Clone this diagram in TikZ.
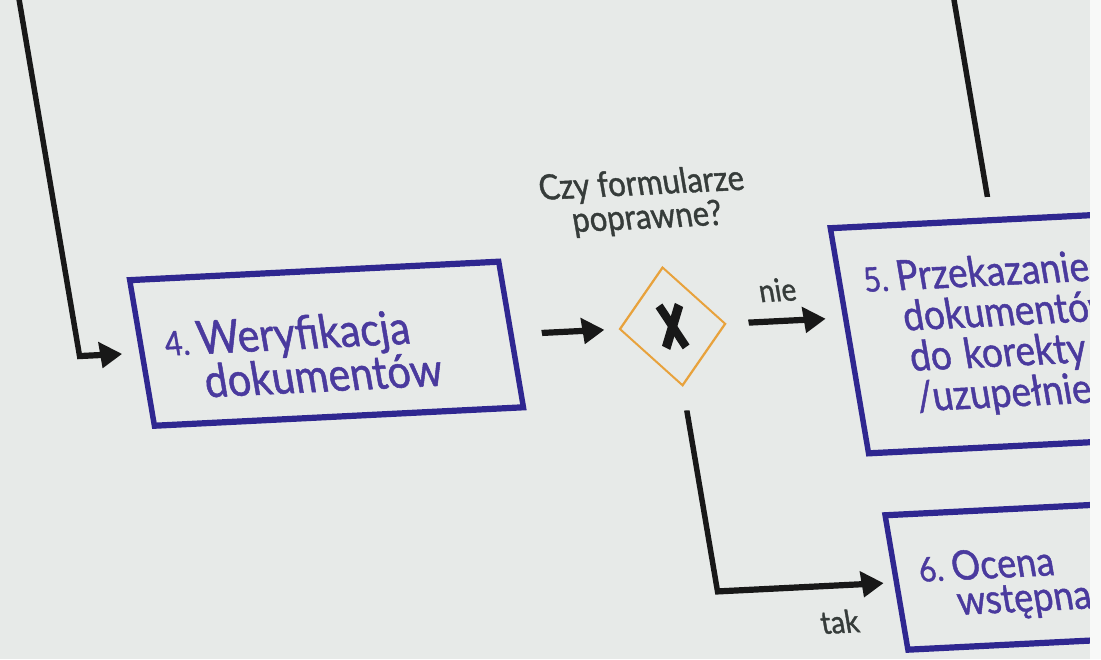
\documentclass[tikz,border=0pt]{standalone}
\usepackage{fontspec}
\setmainfont{Lato}
\newfontfamily\medfont{Lato}[FakeBold=1.2]
\usetikzlibrary{arrows.meta,shapes.geometric}
\definecolor{bg}{HTML}{E7EAE8}
\definecolor{boxc}{HTML}{2F2790}
\definecolor{txtc}{HTML}{4A3A9E}
\definecolor{gatec}{HTML}{E8A23C}
\definecolor{ink}{HTML}{181818}
\definecolor{lbl}{HTML}{363C3A}
\newcommand\tasktext[3][0pt]{\raisebox{-#1}[\height][\depth]{\makebox[33pt][l]{\fontsize{30}{36}\selectfont #2}\parbox[t]{330pt}{\raggedright #3}}}
\tikzset{
  task/.style={draw=boxc, line width=5.5pt, text=txtc, align=left, inner xsep=24pt, inner ysep=0pt,
    font=\medfont\fontsize{41}{36}\selectfont},
  gateway/.style={diamond, aspect=1, draw=gatec, line width=2pt, minimum width=106pt, minimum height=106pt, inner sep=0pt},
  flow/.style={draw=ink, line width=5.5pt, -{Triangle[length=22pt,width=22pt]}},
  plainline/.style={draw=ink, line width=5.5pt},
  xmark/.style={draw=ink, line width=8.5pt},
  cond/.style={text=lbl, align=center, font=\medfont\fontsize{31}{30}\selectfont},
  flowlabel/.style={text=lbl, font=\medfont\fontsize{28}{30}\selectfont}
}
\begin{document}
\begin{tikzpicture}
\useasboundingbox (0,0) rectangle (1101pt,-659pt);
\fill[bg] (0,0) rectangle (1101pt,-659pt);
\begin{scope}
\clip (0,0) rectangle (1090pt,-659pt);
\begin{scope}[transform canvas={cm={1,0.05,-0.19,1.12,(0pt,0pt)}}, x=1pt, y=-0.8929pt]
  % nodes
  \node[task, minimum width=369pt, minimum height=130pt, text width=321pt] (b4) at (266,357)
    {\tasktext[8pt]{4.}{Weryfikacja\\dokumentów}};
  \node[gateway] (g) at (612,357) {};
  \node[task, minimum width=400pt, minimum height=201pt, text width=352pt,
    font=\medfont\fontsize{37}{36}\selectfont] (b5) at (985,380)
    {\tasktext[1pt]{5.}{Przekazanie\\dokumentów\\do korekty\\/uzupełnienia}};
  \node[task, minimum width=400pt, minimum height=120pt, text width=352pt,
    font=\medfont\fontsize{36}{31}\selectfont] (b6) at (991,622)
    {\tasktext[6pt]{6.}{Ocena\\wstępna}};
  \node[cond] (q) at (605,232) {Czy formularze\\poprawne?};
  \node[flowlabel] (nie) at (722,326) {nie};
  \node[flowlabel] (tak) at (728,658) {tak};
  % gateway mark
  \draw[xmark] ([shift={(-10,-21)}]g.center) -- ([shift={(10,21)}]g.center);
  \draw[xmark] ([shift={(10,-21)}]g.center) -- ([shift={(-10,21)}]g.center);
  % connectors
  \coordinate (top4) at (19,-40);
  \coordinate (top5) at (946,-40);
  \draw[flow, shorten >=17pt] (top4) |- (b4.west);
  \draw[flow, shorten <=28pt, shorten >=14pt] (b4.east) -- (g.west);
  \draw[flow, shorten <=22pt, shorten >=17pt] (g.east) -- (g.east -| b5.west);
  \draw[flow, shorten >=10pt] ([yshift=-21pt]g.south) |- (b6.west);
  \draw[plainline] ([yshift=18pt]b5.north -| top5) -- (top5);
\end{scope}
\end{scope}
\fill[white!70!bg] (1090pt,0) rectangle (1101pt,-659pt);
\end{tikzpicture}
\end{document}
